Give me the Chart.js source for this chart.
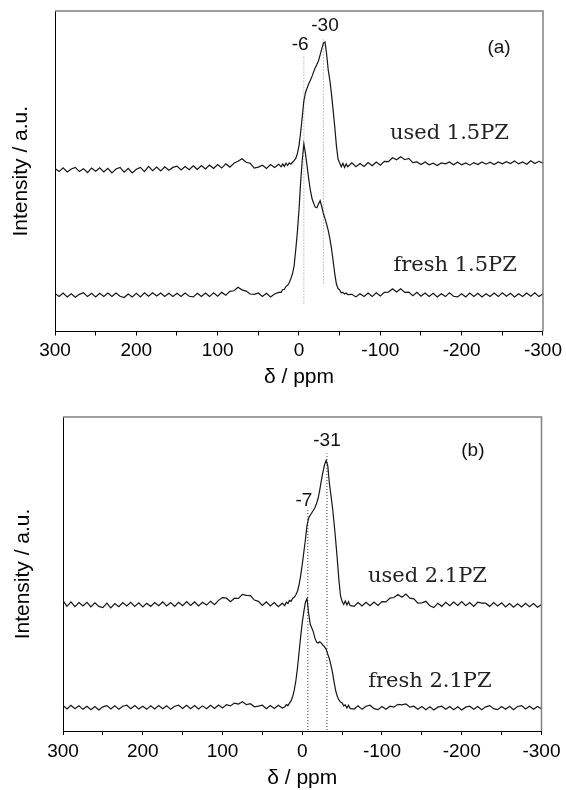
<!DOCTYPE html>
<html><head><meta charset="utf-8">
<script src="https://cdn.jsdelivr.net/npm/chart.js@4.4.1/dist/chart.umd.min.js"></script>
<style>
html,body{margin:0;padding:0;background:#fff;}
.panel{position:relative;width:566px;height:395px;}
canvas{display:block;}
</style></head><body>
<div class="panel"><canvas id="ca" width="566" height="395"></canvas></div>
<div class="panel"><canvas id="cb" width="566" height="395"></canvas></div>
<script>
// Chemical shift grid (ppm), shared by all four spectra
const ppm = [300,295,290,285,280,275,270,265,260,255,250,245,240,235,230,225,220,215,210,205,
  200,195,190,185,180,175,170,165,160,155,150,145,140,135,130,125,120,115,110,105,
  100,95,90,85,80,75,70,65,60,55,50,45,40,35,30,25,
  22,20,18,16,14,12,10,8,6,4,2,0,-2,-4,-6,-8,-10,-12,-14,-16,-18,-20,-22,-24,-26,-28,-30,
  -32,-34,-36,-38,-40,-42,-44,-46,-48,-50,-52,-54,-56,-58,-60,
  -65,-70,-75,-80,-85,-90,-95,-100,-105,-110,-115,-120,-125,-130,-135,-140,-145,-150,-155,-160,
  -165,-170,-175,-180,-185,-190,-195,-200,-205,-210,-215,-220,-225,-230,-235,-240,-245,-250,-255,-260,
  -265,-270,-275,-280,-285,-290,-295,-300];

// Panel (a)
const usedA = [50.9,49.9,51.1,49.8,50.7,51.2,49.9,50.8,49.6,51.0,
  50.0,51.1,49.8,50.9,49.5,50.7,51.2,49.7,50.9,49.5,
  50.6,51.2,49.9,51.5,50.2,51.3,50.1,51.4,50.3,51.2,
  51.6,50.4,51.5,50.5,51.7,50.6,51.8,50.7,51.9,50.9,
  52.1,51.0,52.3,51.3,52.5,53.1,53.9,52.8,52.5,51.0,
  51.3,51.9,50.9,52.1,51.2,52.2,
  51.4,52.3,51.5,52.5,51.8,52.6,52.2,52.8,53.3,54.0,
  55.5,58.0,62.0,67.0,72.0,74.5,76.0,77.3,78.4,79.6,
  81.0,82.3,83.3,84.5,86.3,88.2,90.0,90.3,86.5,81.5,
  78.3,74.0,69.0,63.8,58.0,53.8,52.6,51.4,52.5,51.2,
  52.3,51.4,
  52.6,51.4,52.4,51.5,52.7,51.7,52.9,51.9,53.1,53.0,
  54.2,53.6,54.5,53.6,54.0,52.7,52.9,52.1,52.9,52.0,
  52.5,51.8,52.6,52.3,52.9,52.0,52.8,52.0,52.6,51.9,
  52.7,52.1,52.9,52.2,52.8,52.1,52.9,52.3,53.0,52.4,
  53.2,52.3,52.9,52.2,53.3,52.4,53.1,52.5];
const freshA = [11.9,10.9,12.0,10.8,11.8,10.7,11.6,12.1,10.9,11.9,
  10.8,11.9,10.9,12.0,10.9,12.0,11.0,10.6,11.7,10.8,
  11.9,10.8,12.1,11.0,12.1,11.1,12.0,10.9,11.9,10.9,
  11.9,10.9,12.0,11.0,10.8,11.9,10.9,12.0,10.9,12.1,
  11.0,12.2,11.3,12.5,12.7,13.8,13.0,12.6,11.7,11.6,
  12.0,10.9,11.9,10.8,11.7,12.2,
  12.2,13.1,13.1,14.1,14.4,15.2,16.5,18.0,20.5,25.5,
  31.0,38.0,46.5,53.5,58.5,55.5,51.5,47.5,44.0,41.5,
  40.0,38.8,38.6,39.8,40.8,39.0,36.8,35.2,33.5,31.5,
  29.0,25.8,22.0,18.0,14.8,13.4,13.0,12.1,12.2,11.7,
  12.0,11.5,
  11.6,10.8,11.8,10.9,12.0,10.9,12.1,11.1,12.2,12.3,
  13.3,12.3,13.3,12.2,12.3,11.2,12.2,11.0,12.0,10.9,
  11.9,10.8,11.8,10.9,12.1,11.0,10.8,11.8,10.8,12.0,
  10.9,11.9,10.8,11.8,10.9,12.0,10.9,12.1,11.0,11.9,
  10.8,11.8,10.9,12.0,11.0,12.1,10.9,11.8];

// Panel (b)
const usedB = [41.5,39.7,41.1,39.6,40.9,39.8,41.0,39.5,40.8,39.7,
  39.3,40.7,39.2,40.6,39.6,40.9,39.8,41.0,39.7,40.8,
  39.5,40.7,39.7,40.9,39.9,41.1,39.8,40.9,39.7,41.0,
  39.9,41.2,40.0,41.1,39.8,41.0,40.1,41.3,40.2,41.6,
  42.5,42.3,41.2,42.3,42.2,43.5,43.2,43.1,41.7,41.3,
  40.0,41.1,39.8,40.9,39.6,40.7,
  39.9,41.0,40.6,41.6,41.3,42.3,42.6,43.4,44.5,46.5,
  49.5,53.0,57.0,61.0,65.5,67.8,68.7,69.5,70.3,71.2,
  72.5,74.2,76.8,79.8,82.5,84.8,86.2,84.5,79.0,75.0,
  71.0,66.0,60.5,54.5,48.0,43.0,41.3,40.3,41.4,40.1,
  41.2,40.0,
  39.7,40.9,39.8,41.0,39.9,41.1,40.0,41.2,41.1,42.3,
  42.5,43.5,42.6,43.6,42.3,42.1,40.7,40.8,41.3,39.9,
  39.3,40.7,39.7,41.0,39.9,41.1,40.0,41.2,39.9,40.9,
  39.7,41.0,40.7,40.7,39.7,40.9,39.8,40.8,39.5,40.6,
  39.4,40.5,39.5,40.7,39.6,40.6,39.4,40.3];
const freshB = [8.1,7.0,8.2,7.1,8.0,6.9,7.9,6.8,7.8,6.7,
  7.7,8.1,7.0,8.0,6.9,7.9,8.2,7.1,8.1,7.0,
  7.9,6.9,8.0,7.0,8.1,7.1,8.0,6.9,7.9,8.2,
  7.2,8.2,7.1,8.1,7.0,8.0,7.1,8.2,7.2,8.3,
  7.3,8.4,8.0,8.9,8.6,9.3,8.4,8.7,7.7,7.9,
  8.2,7.1,8.1,7.2,8.2,7.3,
  7.6,8.4,8.1,8.9,9.6,11.0,13.0,16.0,20.0,25.0,
  30.0,34.5,38.0,41.0,42.2,37.5,34.0,32.8,31.5,29.5,
  28.3,28.0,28.4,28.0,27.3,26.8,26.0,24.5,23.0,21.0,
  18.5,15.5,12.8,11.0,9.9,9.2,8.9,8.0,8.3,7.3,
  8.2,7.2,
  7.0,8.0,6.9,7.9,8.2,7.1,6.8,7.8,6.9,7.9,
  7.6,8.5,8.3,8.6,7.6,7.9,6.9,7.8,6.8,7.7,
  6.7,7.6,7.9,6.9,7.8,6.8,7.7,6.7,7.6,7.9,
  6.9,7.8,6.8,7.7,8.1,7.1,6.8,7.8,6.9,7.9,
  6.8,7.8,8.1,7.0,7.9,6.9,7.8,7.1];

// Dotted peak markers: position (ppm) and vertical extent (a.u.)
const markA_ppm = [-6, -30];
const markA_from = [8.7, 15.0];
const markA_to = [86.0, 91.5];
const markB_ppm = [-7, -31];
const markB_from = [0.3, 0.3];
const markB_to = [70.3, 88.4];

// Text annotations (placed in data coordinates)
const notesA_text = ['-6', '-30', '(a)', 'used 1.5PZ', 'fresh 1.5PZ'];
const notesA_ppm = [-1.4, -32, -246, -185, -192];
const notesA_val = [89.4, 95.3, 88.6, 61.7, 20.6];
const notesB_text = ['-7', '-31', '(b)', 'used 2.1PZ', 'fresh 2.1PZ'];
const notesB_ppm = [-2.1, -31, -214, -157, -160];
const notesB_val = [73.3, 92.3, 89.4, 49.1, 15.7];
const notes_kind = ['sans', 'sans', 'sans', 'serif', 'serif'];

// X axis ticks (major labelled every 100, minor every 50)
const xMin = -300, xMax = 300, xStep = 50, xLabelEvery = 100;

const SANS = '"Liberation Sans", Arial, sans-serif';
const SERIF = '"DejaVu Serif", serif';

const framePlugin = {
  id: 'frame',
  afterDraw(chart, args, opts) {
    const {ctx, chartArea: a, scales: {x, y}} = chart;
    ctx.save();
    ctx.strokeStyle = '#808080';
    ctx.lineWidth = 1.5;
    ctx.beginPath();
    ctx.moveTo(a.left, a.top);
    ctx.lineTo(a.right, a.top);
    ctx.lineTo(a.right, a.bottom);
    ctx.stroke();
    ctx.textAlign = 'center';
    ctx.textBaseline = 'middle';
    opts.text.forEach((t, i) => {
      const serif = opts.kind[i] === 'serif';
      ctx.font = serif ? '21px ' + SERIF : '19px ' + SANS;
      ctx.fillStyle = serif ? '#222' : '#111';
      ctx.fillText(t, x.getPixelForValue(opts.ppm[i]), y.getPixelForValue(opts.val[i]));
    });
    ctx.restore();
  }
};

function series(vals) { return ppm.map((p, i) => ({x: p, y: vals[i]})); }

function build(id, used, fresh, mPpm, mFrom, mTo, mColor, nText, nPpm, nVal, L) {
  const datasets = [
    {data: series(used), borderColor: '#151515', borderWidth: 1.2},
    {data: series(fresh), borderColor: '#151515', borderWidth: 1.2}
  ];
  mPpm.forEach((p, i) => {
    datasets.push({data: [{x: p, y: mFrom[i]}, {x: p, y: mTo[i]}],
      borderColor: mColor, borderWidth: 1, borderDash: [1, 2]});
  });
  new Chart(document.getElementById(id), {
    type: 'line',
    data: {datasets},
    options: {
      responsive: false, animation: false, devicePixelRatio: 1,
      layout: {padding: {left: 0, right: L.padRight, top: L.padTop, bottom: 0}},
      elements: {point: {radius: 0}, line: {tension: 0}},
      plugins: {legend: {display: false}, tooltip: {enabled: false},
        frame: {text: nText, ppm: nPpm, val: nVal, kind: notes_kind}},
      scales: {
        x: {
          type: 'linear', reverse: true, min: xMin, max: xMax,
          afterFit(s) { s.height = L.xHeight; },
          ticks: {stepSize: xStep, autoSkip: false, maxRotation: 0, padding: L.tickPad, color: '#000',
            font: {family: SANS, size: 19},
            callback: v => (v % xLabelEvery === 0 ? String(v) : '')},
          grid: {display: true, drawOnChartArea: false, drawTicks: true, tickLength: 4, color: '#000'},
          border: {display: true, color: '#000', width: 1},
          title: {display: true, text: 'δ / ppm', color: '#000', font: {family: SANS, size: 21},
            padding: {top: 0, bottom: L.xTitlePad}}
        },
        y: {
          type: 'linear', min: 0, max: 100,
          afterFit(s) { s.width = L.left; },
          ticks: {display: false},
          grid: {display: false},
          border: {display: true, color: '#000', width: 1},
          title: {display: true, text: 'Intensity / a.u.', color: '#000', font: {family: SANS, size: 21},
            padding: {top: L.yTitlePad, bottom: 0}}
        }
      }
    },
    plugins: [framePlugin]
  });
}

build('ca', usedA, freshA, markA_ppm, markA_from, markA_to, '#8c8c8c',
  notesA_text, notesA_ppm, notesA_val,
  {padTop: 11, padRight: 20, left: 55, xHeight: 63.5, tickPad: 4, xTitlePad: 5, yTitlePad: 9});
build('cb', usedB, freshB, markB_ppm, markB_from, markB_to, '#333333',
  notesB_text, notesB_ppm, notesB_val,
  {padTop: 22, padRight: 20, left: 63, xHeight: 59, tickPad: 5.5, xTitlePad: -1, yTitlePad: 11});
</script>
</body></html>
